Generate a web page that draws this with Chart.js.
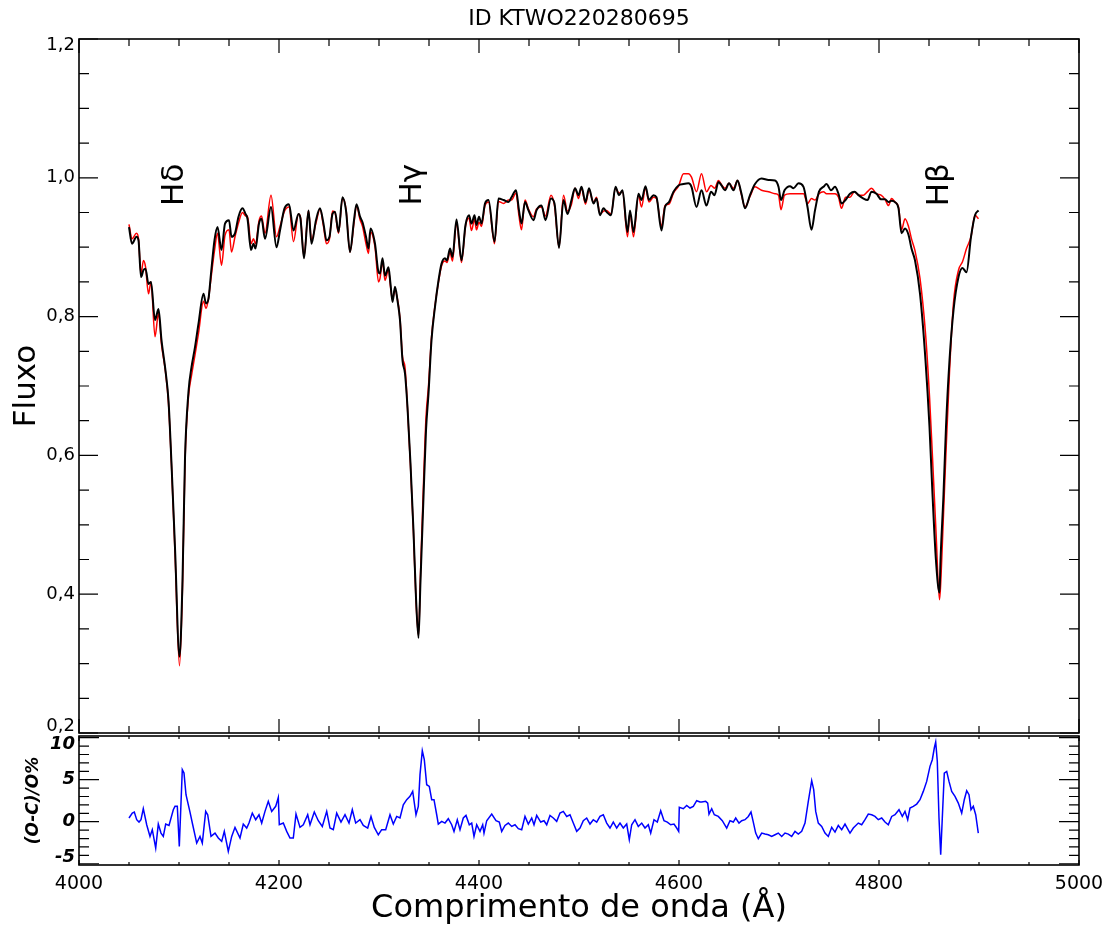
<!DOCTYPE html>
<html>
<head>
<meta charset="utf-8">
<script src="https://cdn.jsdelivr.net/npm/chart.js"></script>
<style>
  html, body { margin: 0; padding: 0; background: #fff; }
  #wrap { position: relative; width: 1107px; height: 925px; }
  #wrap canvas { position: absolute; left: 0; top: 0; }
</style>
</head>
<body>
<div id="wrap">
  <canvas id="specChart" width="1107" height="925"></canvas>
  <canvas id="residChart" width="1107" height="925"></canvas>
</div>
<script>
// wavelength grid (Å) shared by the two spectra
var wave = [
  4050, 4053, 4057.5, 4059.5, 4062, 4064.5, 4066.5, 4069.5, 4072, 4076,
  4079.5, 4082.5, 4086.5, 4089.5, 4092.5, 4096, 4100.5, 4103.5, 4106, 4109.5,
  4112.5, 4116, 4119.5, 4124.5, 4127, 4129.5, 4132, 4135.5, 4138.5, 4142.5,
  4146, 4150, 4152.5, 4156, 4159.5, 4163.5, 4166.5, 4168.5, 4172, 4174.5,
  4176.5, 4180, 4182.5, 4186, 4192, 4197.5, 4201, 4205.5, 4210, 4214.5,
  4219.5, 4221.5, 4225, 4229.5, 4232.5, 4237, 4241, 4244.5, 4247.5, 4250.5,
  4253.5, 4256, 4259.5, 4263.5, 4267, 4271, 4275, 4277.5, 4281, 4283.5,
  4287, 4289.5, 4291.5, 4296, 4299.5, 4301, 4303.5, 4306, 4309.5, 4311.5,
  4313.5, 4316, 4318.5, 4321, 4323.5, 4326, 4328.5, 4331.5, 4334.5, 4337,
  4339.5, 4341.5, 4344.5, 4347, 4349.5, 4352.5, 4356, 4359.5, 4362.5, 4366,
  4368, 4371, 4373.5, 4377.5, 4382.5, 4386.5, 4390, 4392.5, 4395.5, 4397.5,
  4400, 4402.5, 4406, 4409.5, 4415.5, 4419.5, 4424.5, 4429.5, 4432.5, 4437,
  4440, 4442.5, 4446, 4449.5, 4454.5, 4457.5, 4462.5, 4466.5, 4472, 4475.5,
  4480, 4484.5, 4488.5, 4492.5, 4496, 4499.5, 4502.5, 4506.5, 4510, 4514.5,
  4517.5, 4521, 4524.5, 4527.5, 4532, 4536.5, 4540, 4543.5, 4548.5, 4551,
  4554.5, 4559.5, 4562.5, 4566.5, 4570, 4574.5, 4577.5, 4582.5, 4586, 4590,
  4594.5, 4599.5, 4604.5, 4609.5, 4612.5, 4617.5, 4622.5, 4627.5, 4632, 4635.5,
  4639.5, 4642.5, 4646, 4650, 4654.5, 4658.5, 4662.5, 4666, 4671, 4676,
  4682.5, 4689.5, 4696, 4699.5, 4702, 4705.5, 4711, 4714.5, 4719.5, 4724.5,
  4728.5, 4732.5, 4736, 4740, 4744.5, 4747.5, 4752, 4756, 4759.5, 4762.5,
  4766.5, 4771, 4775.5, 4779.5, 4784.5, 4788.5, 4792.5, 4797.5, 4802, 4806,
  4809.5, 4812.5, 4816, 4819.5, 4822.5, 4826, 4829.5, 4832.5, 4836, 4841,
  4846.5, 4850.5, 4853.5, 4857, 4860.5, 4861.5, 4864.5, 4867, 4870.5, 4874.5,
  4879.5, 4883.5, 4887.5, 4892, 4896, 4899.5
];

// black curve
var fluxModel = [
  0.929, 0.905, 0.915, 0.910, 0.857, 0.867, 0.869, 0.847, 0.850, 0.795,
  0.811, 0.766, 0.722, 0.679, 0.588, 0.467, 0.310, 0.419, 0.596, 0.692,
  0.727, 0.756, 0.790, 0.833, 0.819, 0.826, 0.862, 0.910, 0.929, 0.896,
  0.934, 0.939, 0.915, 0.920, 0.944, 0.956, 0.948, 0.941, 0.896, 0.905,
  0.898, 0.934, 0.941, 0.912, 0.958, 0.900, 0.924, 0.956, 0.962, 0.924,
  0.948, 0.941, 0.884, 0.953, 0.905, 0.939, 0.956, 0.934, 0.910, 0.915,
  0.948, 0.951, 0.922, 0.972, 0.953, 0.893, 0.939, 0.962, 0.944, 0.936,
  0.915, 0.898, 0.927, 0.905, 0.864, 0.862, 0.884, 0.859, 0.871, 0.847,
  0.821, 0.843, 0.823, 0.795, 0.737, 0.718, 0.669, 0.588, 0.491, 0.395,
  0.337, 0.419, 0.540, 0.636, 0.689, 0.766, 0.814, 0.852, 0.876, 0.884,
  0.881, 0.898, 0.886, 0.940, 0.881, 0.932, 0.946, 0.934, 0.946, 0.932,
  0.944, 0.934, 0.963, 0.968, 0.908, 0.970, 0.968, 0.965, 0.972, 0.982,
  0.953, 0.934, 0.965, 0.953, 0.939, 0.953, 0.960, 0.939, 0.970, 0.963,
  0.899, 0.968, 0.948, 0.968, 0.985, 0.975, 0.987, 0.965, 0.985, 0.963,
  0.970, 0.946, 0.956, 0.951, 0.946, 0.987, 0.975, 0.982, 0.922, 0.953,
  0.922, 0.977, 0.968, 0.988, 0.968, 0.975, 0.972, 0.924, 0.958, 0.965,
  0.980, 0.989, 0.991, 0.992, 0.987, 0.958, 0.982, 0.960, 0.980, 0.975,
  0.994, 0.989, 0.982, 0.992, 0.982, 0.996, 0.977, 0.956, 0.975, 0.991,
  0.999, 0.997, 0.996, 0.987, 0.968, 0.982, 0.988, 0.985, 0.992, 0.987,
  0.958, 0.925, 0.953, 0.980, 0.987, 0.991, 0.982, 0.987, 0.977, 0.963,
  0.968, 0.977, 0.980, 0.975, 0.970, 0.968, 0.980, 0.977, 0.969, 0.969,
  0.965, 0.967, 0.965, 0.956, 0.920, 0.927, 0.918, 0.898, 0.881, 0.833,
  0.737, 0.641, 0.544, 0.448, 0.402, 0.448, 0.544, 0.641, 0.737, 0.809,
  0.857, 0.870, 0.864, 0.915, 0.946, 0.953
];

// red curve
var fluxObs = [
  0.933, 0.912, 0.920, 0.912, 0.862, 0.881, 0.872, 0.833, 0.850, 0.771,
  0.805, 0.760, 0.720, 0.675, 0.585, 0.460, 0.297, 0.410, 0.590, 0.685,
  0.715, 0.745, 0.776, 0.822, 0.812, 0.826, 0.855, 0.895, 0.920, 0.874,
  0.917, 0.925, 0.893, 0.915, 0.935, 0.950, 0.945, 0.945, 0.905, 0.912,
  0.905, 0.938, 0.945, 0.920, 0.975, 0.915, 0.930, 0.952, 0.958, 0.908,
  0.948, 0.943, 0.886, 0.953, 0.910, 0.935, 0.955, 0.930, 0.905, 0.912,
  0.952, 0.950, 0.920, 0.970, 0.955, 0.893, 0.935, 0.960, 0.940, 0.930,
  0.905, 0.891, 0.922, 0.900, 0.850, 0.855, 0.880, 0.852, 0.868, 0.843,
  0.825, 0.838, 0.825, 0.797, 0.742, 0.727, 0.668, 0.584, 0.487, 0.390,
  0.340, 0.430, 0.560, 0.655, 0.700, 0.770, 0.816, 0.850, 0.873, 0.880,
  0.878, 0.893, 0.880, 0.935, 0.878, 0.930, 0.942, 0.924, 0.940, 0.925,
  0.936, 0.930, 0.960, 0.965, 0.905, 0.966, 0.963, 0.968, 0.968, 0.978,
  0.945, 0.925, 0.968, 0.955, 0.944, 0.955, 0.958, 0.945, 0.975, 0.960,
  0.900, 0.975, 0.952, 0.962, 0.985, 0.970, 0.985, 0.962, 0.982, 0.965,
  0.972, 0.948, 0.952, 0.953, 0.948, 0.985, 0.978, 0.980, 0.915, 0.950,
  0.915, 0.975, 0.958, 0.985, 0.965, 0.972, 0.970, 0.930, 0.960, 0.962,
  0.978, 0.988, 1.006, 1.006, 1.001, 0.980, 1.006, 0.980, 0.989, 0.985,
  0.996, 0.990, 0.985, 0.992, 0.985, 0.996, 0.975, 0.958, 0.973, 0.987,
  0.982, 0.980, 0.977, 0.975, 0.954, 0.975, 0.977, 0.977, 0.977, 0.977,
  0.963, 0.970, 0.968, 0.977, 0.980, 0.977, 0.977, 0.977, 0.972, 0.956,
  0.972, 0.972, 0.980, 0.975, 0.975, 0.980, 0.985, 0.977, 0.975, 0.969,
  0.960, 0.970, 0.965, 0.958, 0.925, 0.941, 0.930, 0.912, 0.895, 0.855,
  0.776, 0.685, 0.597, 0.490, 0.392, 0.410, 0.515, 0.605, 0.720, 0.820,
  0.867, 0.879, 0.898, 0.915, 0.946, 0.941
];

// lower panel: (O-C)/O in per cent
var waveRes = [
  4050, 4053.3, 4055.3, 4057.7, 4060, 4062, 4064.3, 4067.7, 4071, 4073.3,
  4076.7, 4079.3, 4082, 4084.3, 4086.7, 4090, 4094.3, 4096, 4098.3, 4100.3,
  4103.3, 4105, 4107, 4111, 4113.7, 4117.7, 4121, 4123.3, 4126.7, 4128.7,
  4132, 4136, 4139.3, 4142.7, 4145.3, 4149.3, 4152.7, 4156, 4161, 4164.3,
  4167.7, 4170, 4173.3, 4176.7, 4180, 4182.7, 4186, 4189.3, 4192.7, 4196.7,
  4199.3, 4200.3, 4204.3, 4207.7, 4211, 4214.3, 4217, 4221, 4224.3, 4228.7,
  4231, 4235.3, 4239.3, 4243.3, 4247.7, 4251, 4254.3, 4257.7, 4262, 4266,
  4270, 4273.3, 4276.7, 4281, 4284.3, 4288.7, 4292, 4295.3, 4299.3, 4302.7,
  4306.7, 4311, 4314.3, 4317.7, 4321, 4324.3, 4327.7, 4331, 4333.7, 4337,
  4339.3, 4341, 4343.3, 4345.3, 4347.7, 4350.3, 4352.7, 4355, 4357.7, 4359.3,
  4362.7, 4366, 4369.3, 4372.7, 4375, 4378.3, 4381, 4384.3, 4387, 4390.3,
  4392.7, 4395, 4397.7, 4401, 4403.7, 4405, 4407.7, 4412.7, 4417, 4420.3,
  4422.7, 4426, 4429.3, 4432.7, 4436, 4439.3, 4442.7, 4446, 4449.3, 4452.7,
  4455, 4457.7, 4461.7, 4465, 4467.7, 4471, 4474.3, 4477.7, 4481, 4484.3,
  4487.7, 4491, 4494.3, 4497.7, 4501, 4504.3, 4507.7, 4511, 4514.3, 4517.7,
  4521, 4524.3, 4527.7, 4531, 4534.3, 4537.7, 4541, 4544.3, 4547.7, 4550.3,
  4552.7, 4556, 4559.3, 4562.7, 4566, 4569.3, 4571.7, 4575, 4578.3, 4581.7,
  4585, 4588.3, 4591.7, 4595, 4597.7, 4599.7, 4600.3, 4604.3, 4607.7, 4611,
  4614.3, 4617.7, 4621, 4622.7, 4626.7, 4628.7, 4630, 4632.7, 4635.3, 4639.3,
  4643.3, 4647.7, 4651, 4654.3, 4656.7, 4660, 4662.7, 4666, 4669.3, 4672,
  4674.3, 4676.7, 4679.3, 4682.7, 4686, 4689.3, 4692.7, 4696, 4699.3, 4702.7,
  4706, 4709.3, 4712.7, 4716, 4719.3, 4722.7, 4726, 4729.3, 4732.7, 4734.7,
  4736.7, 4739.3, 4742.7, 4746, 4749.3, 4752.7, 4756, 4759.3, 4762.7, 4766,
  4771, 4774.3, 4779.3, 4782.7, 4786, 4789.3, 4792.7, 4796, 4799.3, 4802.7,
  4806, 4809.3, 4812.7, 4816, 4820, 4823.3, 4826, 4828.7, 4831, 4834.3,
  4837.7, 4841, 4844.3, 4847.7, 4851, 4853.3, 4855.3, 4856.7, 4858.3, 4860,
  4861.7, 4863.3, 4865.3, 4867.7, 4870, 4872.7, 4876, 4879.3, 4882.7, 4885.3,
  4887.7, 4890, 4892, 4894.3, 4896.7, 4899.3
];
var resid = [
  0.44, 1.03, 1.15, 0.24, -0.04, 0.24, 1.55, -0.36, -1.75, -0.95,
  -3.13, -0.28, -1.35, -1.75, -0.28, -0.44, 1.43, 1.83, 1.83, -2.94,
  6.19, 5.79, 3.21, 1.15, -0.36, -2.54, -1.75, -2.54, 1.23, 0.83,
  -1.75, -1.35, -1.94, -2.34, -1.15, -3.53, -1.75, -0.67, -1.94, -0.28,
  -0.75, -0.16, 1.03, 0.24, 0.83, -0.16, 1.23, 2.42, 1.23, 1.83,
  2.90, -0.36, -0.16, -1.15, -1.94, -1.94, 0.91, -0.67, -0.36, 0.83,
  -0.36, 1.15, 0.12, -0.56, 1.23, -0.75, -0.95, 1.03, -0.04, 0.83,
  -0.16, 1.43, -0.16, 0.24, -0.44, -0.75, 0.63, -0.67, -1.55, -0.95,
  -0.95, 0.83, -0.28, 0.63, 0.44, 2.02, 2.62, 3.02, 3.61, 0.83,
  1.83, 5.60, 8.45, 7.38, 4.40, 4.21, 2.62, 2.62, 0.83, -0.28,
  0.04, -0.16, 0.36, -0.36, -1.15, 0.24, -0.95, 0.44, 0.75, -0.36,
  -0.16, -1.75, -0.36, -1.15, -0.36, -1.35, 0.12, 0.91, 0.12, -0.04,
  -1.15, -0.44, -0.16, -0.56, -0.36, -0.83, -0.95, 0.63, -0.28, 0.44,
  -0.36, 0.75, -0.04, 0.12, -0.36, 0.75, 0.44, 0.04, 1.03, 1.23,
  0.63, 0.83, -0.16, -1.15, -0.75, 0.12, 0.44, -0.28, 0.24, -0.04,
  0.63, 0.83, -0.16, -0.75, -0.04, -0.75, -0.16, -0.75, -0.28, -2.14,
  -0.36, 0.24, -0.56, -0.16, -0.75, -0.36, -1.35, 0.24, -0.04, 1.31,
  0.12, -0.04, -0.36, -0.28, -0.75, -1.15, 1.71, 1.55, 1.94, 1.63,
  1.83, 2.50, 2.34, 2.34, 2.42, 2.22, 0.91, 1.55, 0.83, 0.63,
  0.12, -0.75, 0.12, -0.04, 0.44, -0.16, 0.12, 0.24, 0.63, 1.15,
  -0.04, -1.35, -2.02, -1.35, -1.47, -1.55, -1.75, -1.55, -1.35, -1.75,
  -1.35, -1.47, -1.75, -1.15, -1.47, -1.15, -0.16, 2.42, 4.88, 3.81,
  1.23, -0.16, -0.56, -1.35, -1.75, -0.67, -1.23, -0.44, -0.95, -0.28,
  -1.35, -0.75, -0.16, -0.36, 0.24, 0.91, 0.83, 0.63, 0.24, 0.44,
  -0.04, -0.36, 0.63, 0.83, 1.43, 0.63, 1.23, 0.24, 1.63, 1.83,
  2.10, 2.62, 3.61, 4.80, 6.59, 7.38, 8.77, 9.48, 7.20, 0.44,
  -3.93, 0.44, 5.79, 5.99, 4.80, 3.61, 3.02, 2.22, 1.03, 2.62,
  3.69, 3.21, 1.43, 1.83, 0.83, -1.35
];

// tick label positions (the end labels sit a little inside the box, as in the original)
var fluxTicks = [0.209, 0.4, 0.6, 0.8, 1.0, 1.191];
var residTicks = [-4.2, 0, 5, 9.2];
var waveTicks = [4000, 4200, 4400, 4600, 4800, 5000];

// Balmer line marks
var lineNames = ['Hδ', 'Hγ', 'Hβ'];
var lineWaves = [4096, 4334, 4861];
var lineLevel = 0.99;

Chart.defaults.font.family = 'DejaVu Sans';
Chart.defaults.color = '#000';

function pts(xs, ys) {
    return xs.map(function(x, i) { return {x: x, y: ys[i]}; });
}

function ticksOn(list) {
    return function(scale) {
        scale.ticks = list.map(function(v) { return {value: v}; });
    };
}

// box round the plot plus the inward ticks on all four sides
var frameTicks = {
    id: 'frameTicks',
    afterDraw: function(chart, args, o) {
        var ctx = chart.ctx, a = chart.chartArea;
        var xs = chart.scales.x, ys = chart.scales.y;
        ctx.save();
        ctx.strokeStyle = '#000';
        ctx.lineWidth = 1.2;
        ctx.beginPath();
        var k, v, p, len;
        for (k = Math.ceil(xs.min / o.xMinor - 1e-6); k * o.xMinor <= xs.max + 1e-6; k++) {
            v = k * o.xMinor;
            p = xs.getPixelForValue(v);
            len = Math.abs(v / o.xMajor - Math.round(v / o.xMajor)) < 1e-6 ? o.xMajorLen : o.xMinorLen;
            ctx.moveTo(p, a.top); ctx.lineTo(p, a.top + len);
            ctx.moveTo(p, a.bottom); ctx.lineTo(p, a.bottom - len);
        }
        for (k = Math.ceil(ys.min / o.yMinor - 1e-6); k * o.yMinor <= ys.max + 1e-6; k++) {
            v = k * o.yMinor;
            p = ys.getPixelForValue(v);
            len = Math.abs(v / o.yMajor - Math.round(v / o.yMajor)) < 1e-6 ? o.yMajorLen : o.yMinorLen;
            ctx.moveTo(a.left, p); ctx.lineTo(a.left + len, p);
            ctx.moveTo(a.right, p); ctx.lineTo(a.right - len, p);
        }
        ctx.stroke();
        ctx.lineWidth = 1.6;
        ctx.strokeRect(a.left, a.top, a.right - a.left, a.bottom - a.top);
        ctx.restore();
    }
};

var lineLabels = {
    id: 'lineLabels',
    afterDatasetsDraw: function(chart) {
        var ctx = chart.ctx;
        ctx.save();
        ctx.fillStyle = '#000';
        ctx.font = '31px "DejaVu Sans"';
        ctx.textAlign = 'center';
        ctx.textBaseline = 'middle';
        lineNames.forEach(function(name, i) {
            var x = chart.scales.x.getPixelForValue(lineWaves[i]);
            var y = chart.scales.y.getPixelForValue(lineLevel);
            ctx.save();
            ctx.translate(x, y);
            ctx.rotate(-Math.PI / 2);
            ctx.fillText(name, 0, 0);
            ctx.restore();
        });
        ctx.restore();
    }
};

new Chart(document.getElementById('specChart'), {
    type: 'line',
    data: {
        datasets: [
            {
                label: 'modelo',
                data: pts(wave, fluxModel),
                borderColor: '#000000',
                borderWidth: 2,
                pointRadius: 0,
                cubicInterpolationMode: 'monotone'
            },
            {
                label: 'observado',
                data: pts(wave, fluxObs),
                borderColor: '#ff0000',
                borderWidth: 1.5,
                pointRadius: 0,
                cubicInterpolationMode: 'monotone'
            }
        ]
    },
    options: {
        responsive: false,
        animation: false,
        devicePixelRatio: 1,
        layout: { padding: { left: 0, right: 28, top: 0, bottom: 192 } },
        plugins: {
            legend: { display: false },
            tooltip: { enabled: false },
            title: {
                display: true,
                text: 'ID KTWO220280695',
                fullSize: false,
                font: { size: 22, weight: 'normal', lineHeight: 1.2 },
                padding: { top: 6, bottom: 6.6 }
            },
            frameTicks: {
                xMinor: 50, xMajor: 200, xMinorLen: 7, xMajorLen: 14,
                yMinor: 0.05, yMajor: 0.2, yMinorLen: 10, yMajorLen: 19
            }
        },
        scales: {
            x: { type: 'linear', min: 4000, max: 5000, display: false },
            y: {
                min: 0.2, max: 1.2,
                afterBuildTicks: ticksOn(fluxTicks),
                afterFit: function(s) { s.width = 79; },
                grid: { display: false, drawTicks: false },
                border: { display: false },
                ticks: {
                    padding: 4,
                    font: { size: 18 },
                    callback: function(v) { return v.toFixed(1).replace('.', ','); }
                },
                title: {
                    display: true,
                    text: 'Fluxo',
                    font: { size: 31 },
                    padding: { top: 8, bottom: 0 }
                }
            }
        }
    },
    plugins: [frameTicks, lineLabels]
});

new Chart(document.getElementById('residChart'), {
    type: 'line',
    data: {
        datasets: [
            {
                label: '(O-C)/O%',
                data: pts(waveRes, resid),
                borderColor: '#0000ff',
                borderWidth: 1.5,
                pointRadius: 0,
                tension: 0
            }
        ]
    },
    options: {
        responsive: false,
        animation: false,
        devicePixelRatio: 1,
        layout: { padding: { left: 0, right: 28, top: 736, bottom: 0 } },
        plugins: {
            legend: { display: false },
            tooltip: { enabled: false },
            frameTicks: {
                xMinor: 50, xMajor: 200, xMinorLen: 3, xMajorLen: 5,
                yMinor: 1, yMajor: 5, yMinorLen: 10, yMajorLen: 20
            }
        },
        scales: {
            x: {
                type: 'linear', min: 4000, max: 5000,
                afterBuildTicks: ticksOn(waveTicks),
                afterFit: function(s) {
                    s.height = 60;
                    s.paddingLeft = 0;
                    s.paddingRight = 0;
                },
                grid: { display: false, drawTicks: false },
                border: { display: false },
                ticks: {
                    padding: 8,
                    maxRotation: 0,
                    font: { size: 19 },
                    callback: function(v) { return String(v); }
                },
                title: {
                    display: true,
                    text: 'Comprimento de onda (Å)',
                    font: { size: 32 },
                    padding: { top: 0, bottom: -3 }
                }
            },
            y: {
                min: -5.15, max: 10.2,
                afterBuildTicks: ticksOn(residTicks),
                afterFit: function(s) { s.width = 79; },
                grid: { display: false, drawTicks: false },
                border: { display: false },
                ticks: {
                    padding: 4,
                    font: { size: 18, style: 'italic', weight: 'bold' },
                    callback: function(v) { return String(Math.round(v / 5) * 5); }
                },
                title: {
                    display: true,
                    text: '(O-C)/O%',
                    font: { size: 17, style: 'italic', weight: 'bold' },
                    padding: { top: 23, bottom: 0 }
                }
            }
        }
    },
    plugins: [frameTicks]
});
</script>
</body>
</html>
